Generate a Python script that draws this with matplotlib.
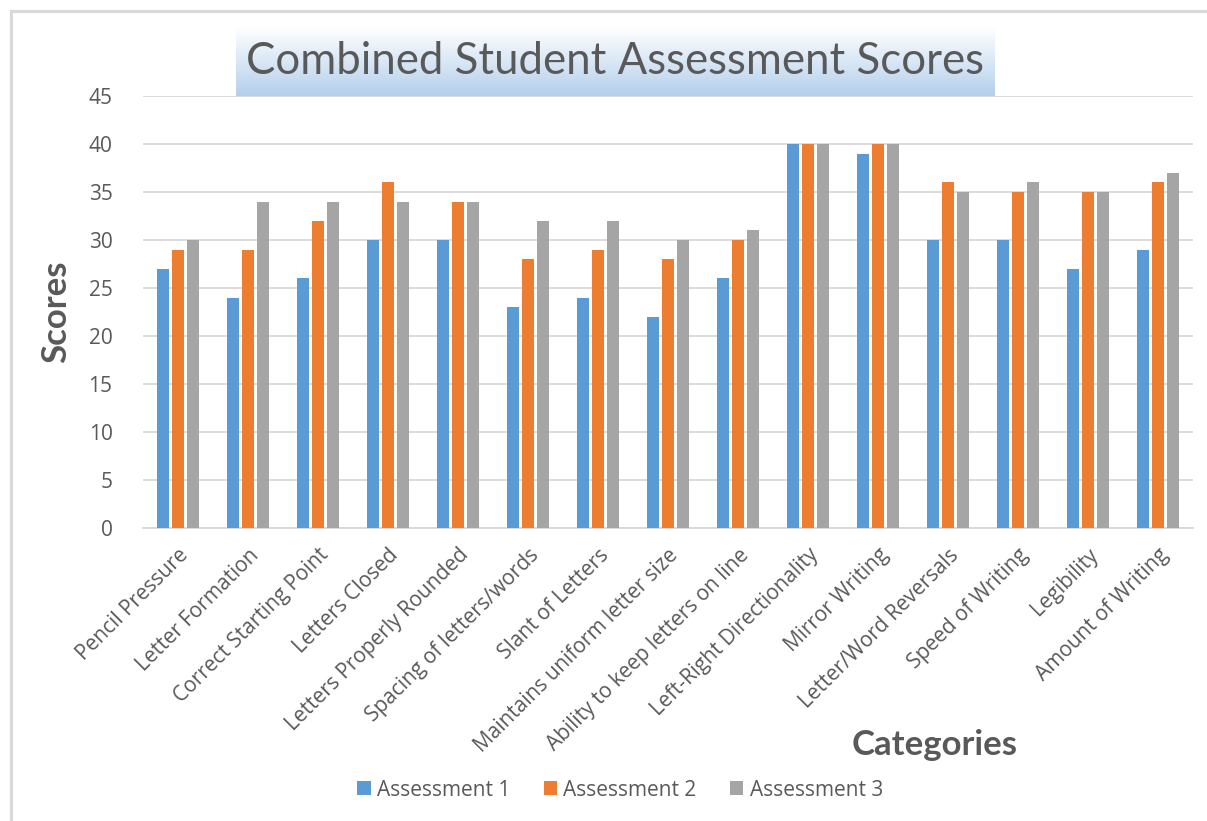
import matplotlib
matplotlib.use("Agg")
import matplotlib.pyplot as plt
import numpy as np
from matplotlib.patches import Rectangle

plt.rcParams['font.family'] = ['Open Sans', 'DejaVu Sans']

categories = ["Pencil Pressure", "Letter Formation", "Correct Starting Point",
              "Letters Closed", "Letters Properly Rounded", "Spacing of letters/words",
              "Slant of Letters", "Maintains uniform letter size",
              "Ability to keep letters on line", "Left-Right Directionality",
              "Mirror Writing", "Letter/Word Reversals", "Speed of Writing",
              "Legibility", "Amount of Writing"]
assessment1 = [27, 24, 26, 30, 30, 23, 24, 22, 26, 40, 39, 30, 30, 27, 29]
assessment2 = [29, 29, 32, 36, 34, 28, 29, 28, 30, 40, 40, 36, 35, 35, 36]
assessment3 = [30, 34, 34, 34, 34, 32, 32, 30, 31, 40, 40, 35, 36, 35, 37]
series_names = ["Assessment 1", "Assessment 2", "Assessment 3"]
colors = ["#5B9BD5", "#ED7D31", "#A5A5A5"]

W, H = 1207, 821
fig = plt.figure(figsize=(W / 100, H / 100), dpi=100)

# outer chart border (continues past the right and bottom edges)
fig.patches.append(Rectangle((10.5 / W, -0.05), 1.1, 1.05 - 11.5 / H, transform=fig.transFigure,
                             fill=False, edgecolor="#D9D9D9", linewidth=2.2))

ax = fig.add_axes([143 / W, 1 - 528 / H, (1193 - 143) / W, (528 - 96) / H])
x = np.arange(len(categories))
pitch = 0.217
bw = 0.171
for i, (vals, name, c) in enumerate(zip([assessment1, assessment2, assessment3], series_names, colors)):
    ax.bar(x + (i - 1) * pitch, vals, width=bw, color=c, label=name, zorder=3)

ax.set_xlim(-0.5, len(categories) - 0.5)
ax.set_ylim(0, 45)
ax.set_yticks(np.arange(0, 46, 5))
ax.yaxis.grid(True, color="#D9D9D9", linewidth=1.3, zorder=0)
ax.set_axisbelow(True)
for s in ["top", "right", "left"]:
    ax.spines[s].set_visible(False)
ax.spines["bottom"].set_color("#D9D9D9")
ax.spines["bottom"].set_linewidth(1.3)
ax.tick_params(axis="both", length=0, colors="#595959", labelsize=15)
ax.tick_params(axis="y", pad=22)
ax.set_xticks(x)
ax.set_xticklabels(categories, rotation=45, ha="right", va="top", rotation_mode="anchor",
                   fontsize=15, color="#595959")
ax.tick_params(axis="x", pad=12)

ax.set_ylabel("Scores", fontsize=25, fontweight="bold", color="#595959", labelpad=12,
              family=["Lato", "DejaVu Sans"])
fig.text(935 / W, 1 - 745 / H, "Categories", fontsize=25, fontweight="bold", color="#595959",
         ha="center", va="center", family=["Lato", "DejaVu Sans"])

# title box with gradient
tax = fig.add_axes([236 / W, 1 - 96 / H, (995 - 236) / W, (96 - 27) / H])
grad = np.linspace(0, 1, 100).reshape(-1, 1)
top = np.array([1.0, 1.0, 1.0])
bot = np.array([0xB4, 0xCF, 0xEC]) / 255
img = top + (bot - top) * grad
tax.imshow(img.reshape(100, 1, 3), aspect="auto", extent=[0, 1, 0, 1], origin="upper")
tax.set_axis_off()
tax.text(0.5, 0.5, "Combined Student Assessment Scores", fontsize=31.5, color="#595959",
         ha="center", va="center", transform=tax.transAxes, family=["Lato", "DejaVu Sans"])

leg = fig.legend(loc="center", bbox_to_anchor=(620 / W, 1 - 790 / H), ncol=3, frameon=False,
                 fontsize=15, handlelength=0.65, handleheight=0.65, handletextpad=0.3,
                 columnspacing=1.6, labelcolor="#595959")

fig.savefig("out.png", dpi=100)
